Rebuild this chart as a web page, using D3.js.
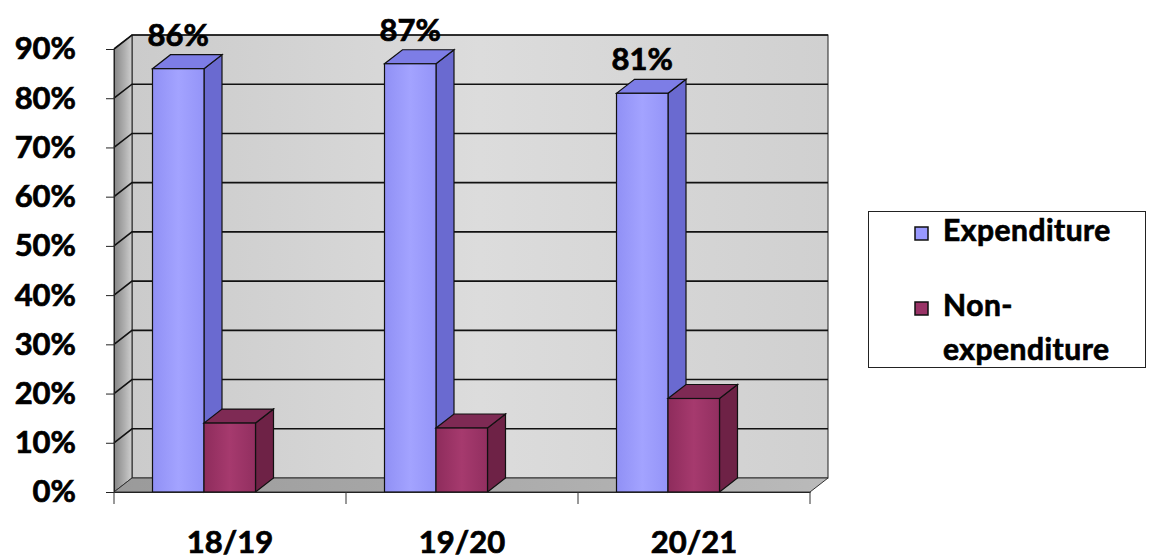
<!DOCTYPE html>
<html><head><meta charset="utf-8">
<script src="https://cdn.jsdelivr.net/npm/d3@7"></script>
<style>body{margin:0;background:#fff}svg{display:block}</style>
</head><body>
<script>
const categories = ["18/19", "19/20", "20/21"];
const expenditure = [86, 87, 81];
const nonExpenditure = [14, 13, 19];
const yTicks = [0, 10, 20, 30, 40, 50, 60, 70, 80, 90];
const seriesNames = ["Expenditure", "Non-expenditure"];

const W = 1149, H = 559;
const svg = d3.select("body").append("svg").attr("width", W).attr("height", H);
const FONT = "Lato, 'Open Sans', sans-serif";

const x0 = 114, x1 = 810, yBase = 492, yTop = 49;
const dx = 18, dy = -14;
const y = d3.scaleLinear().domain([0, 90]).range([yBase, yTop]);
const x = d3.scaleBand().domain(categories).range([x0, x1]).padding(0);
const band = x.bandwidth();

const defs = svg.append("defs");
function grad(id, stops, x2, y2) {
  const g = defs.append("linearGradient").attr("id", id)
    .attr("x1", 0).attr("y1", 0).attr("x2", x2).attr("y2", y2);
  stops.forEach(([o, c]) => g.append("stop").attr("offset", o).attr("stop-color", c));
}
grad("back", [[0, "#cbcbcb"], [0.5, "#dcdcdc"], [1, "#d0d0d0"]], 1, 0);
grad("left", [[0, "#858585"], [0.6, "#b0b0b0"], [1, "#cfcfcf"]], 1, 0);
grad("floor", [[0, "#9a9a9a"], [1, "#bababa"]], 1, 0);
grad("expF", [[0, "#9090f5"], [0.5, "#a3a3ff"], [1, "#9494f8"]], 1, 0);
grad("nonF", [[0, "#8e2c5c"], [0.5, "#a63a6e"], [1, "#922f60"]], 1, 0);

const pts = a => a.map(p => p.join(",")).join(" ");
const g = svg.append("g");

function boldText(sel, size) {
  return sel.attr("font-family", FONT).attr("font-weight", "bold").attr("font-size", size)
    .attr("fill", "#000").attr("stroke", "#000").attr("stroke-width", 0.7);
}

// back wall
g.append("rect").attr("x", x0 + dx).attr("y", y(90) + dy)
  .attr("width", x1 - x0).attr("height", y(0) - y(90))
  .attr("fill", "url(#back)").attr("stroke", "#222").attr("stroke-width", 1);
// left wall
g.append("polygon").attr("points", pts([[x0, y(0)], [x0, y(90)], [x0 + dx, y(90) + dy], [x0 + dx, y(0) + dy]]))
  .attr("fill", "url(#left)").attr("stroke", "#222").attr("stroke-width", 1);
// floor
g.append("polygon").attr("points", pts([[x0, y(0)], [x1, y(0)], [x1 + dx, y(0) + dy], [x0 + dx, y(0) + dy]]))
  .attr("fill", "url(#floor)").attr("stroke", "#333").attr("stroke-width", 1);

// gridlines
yTicks.forEach(t => {
  if (t === 0) return;
  g.append("polyline").attr("points", pts([[x0, y(t)], [x0 + dx, y(t) + dy], [x1 + dx, y(t) + dy]]))
    .attr("fill", "none").attr("stroke", "#111").attr("stroke-width", 1.6);
});

// y axis
const yAxis = d3.axisLeft(y).tickValues(yTicks).tickSize(8).tickFormat(d => d + "%");
const ya = svg.append("g").attr("transform", `translate(${x0},0)`).call(yAxis);
ya.select(".domain").attr("stroke", "#222");
ya.selectAll(".tick line").attr("stroke", "#222");
boldText(ya.selectAll(".tick text").attr("x", -38), 31);

// x axis
const xa = svg.append("g").attr("transform", `translate(0,${yBase})`)
  .call(d3.axisBottom(x).tickSize(0).tickFormat(""));
xa.select(".domain").attr("stroke", "#222");
[x0, x0 + band, x0 + 2 * band, x1].forEach(v => {
  xa.append("line").attr("x1", v).attr("x2", v).attr("y1", 0).attr("y2", 12).attr("stroke", "#333");
});
categories.forEach(c => {
  boldText(svg.append("text").attr("x", x(c) + band / 2).attr("y", 553).attr("text-anchor", "middle"), 31).text(c);
});

// bars
const barW = 51.5, off = 38.5;
function bar3d(xl, v, front, side, top) {
  const yt = y(v), xr = xl + barW;
  g.append("polygon").attr("points", pts([[xr, yBase], [xr, yt], [xr + dx, yt + dy], [xr + dx, yBase + dy]]))
    .attr("fill", side).attr("stroke", "#111").attr("stroke-width", 1.2);
  g.append("polygon").attr("points", pts([[xl, yt], [xr, yt], [xr + dx, yt + dy], [xl + dx, yt + dy]]))
    .attr("fill", top).attr("stroke", "#111").attr("stroke-width", 1.2);
  g.append("rect").attr("x", xl).attr("y", yt).attr("width", barW).attr("height", yBase - yt)
    .attr("fill", front).attr("stroke", "#111").attr("stroke-width", 1.2);
}
categories.forEach((c, i) => {
  const b = x(c);
  bar3d(b + off, expenditure[i], "url(#expF)", "#6a6ad0", "#7d7de6");
  bar3d(b + off + barW, nonExpenditure[i], "url(#nonF)", "#6e2246", "#7e2a54");
  boldText(svg.append("text").attr("x", b + off + barW / 2).attr("y", y(expenditure[i]) - 23)
    .attr("text-anchor", "middle"), 31).text(expenditure[i] + "%");
});

// legend
const lg = svg.append("g");
lg.append("rect").attr("x", 868.5).attr("y", 211.5).attr("width", 277).attr("height", 156)
  .attr("fill", "#fff").attr("stroke", "#222").attr("stroke-width", 1);
const legColors = ["#9999ff", "#993366"];
const legY = [233, 308];
seriesNames.forEach((s, i) => {
  lg.append("rect").attr("x", 915).attr("y", legY[i] - 6).attr("width", 13).attr("height", 13)
    .attr("fill", legColors[i]).attr("stroke", "#111").attr("stroke-width", 1.5);
});
boldText(lg.append("text").attr("x", 943).attr("y", 241), 30).attr("letter-spacing", 0.5).text("Expenditure");
const t2 = boldText(lg.append("text"), 30).attr("letter-spacing", 0.5);
t2.append("tspan").attr("x", 943).attr("y", 316).text("Non-");
t2.append("tspan").attr("x", 943).attr("y", 360).text("expenditure");
</script>
</body></html>
